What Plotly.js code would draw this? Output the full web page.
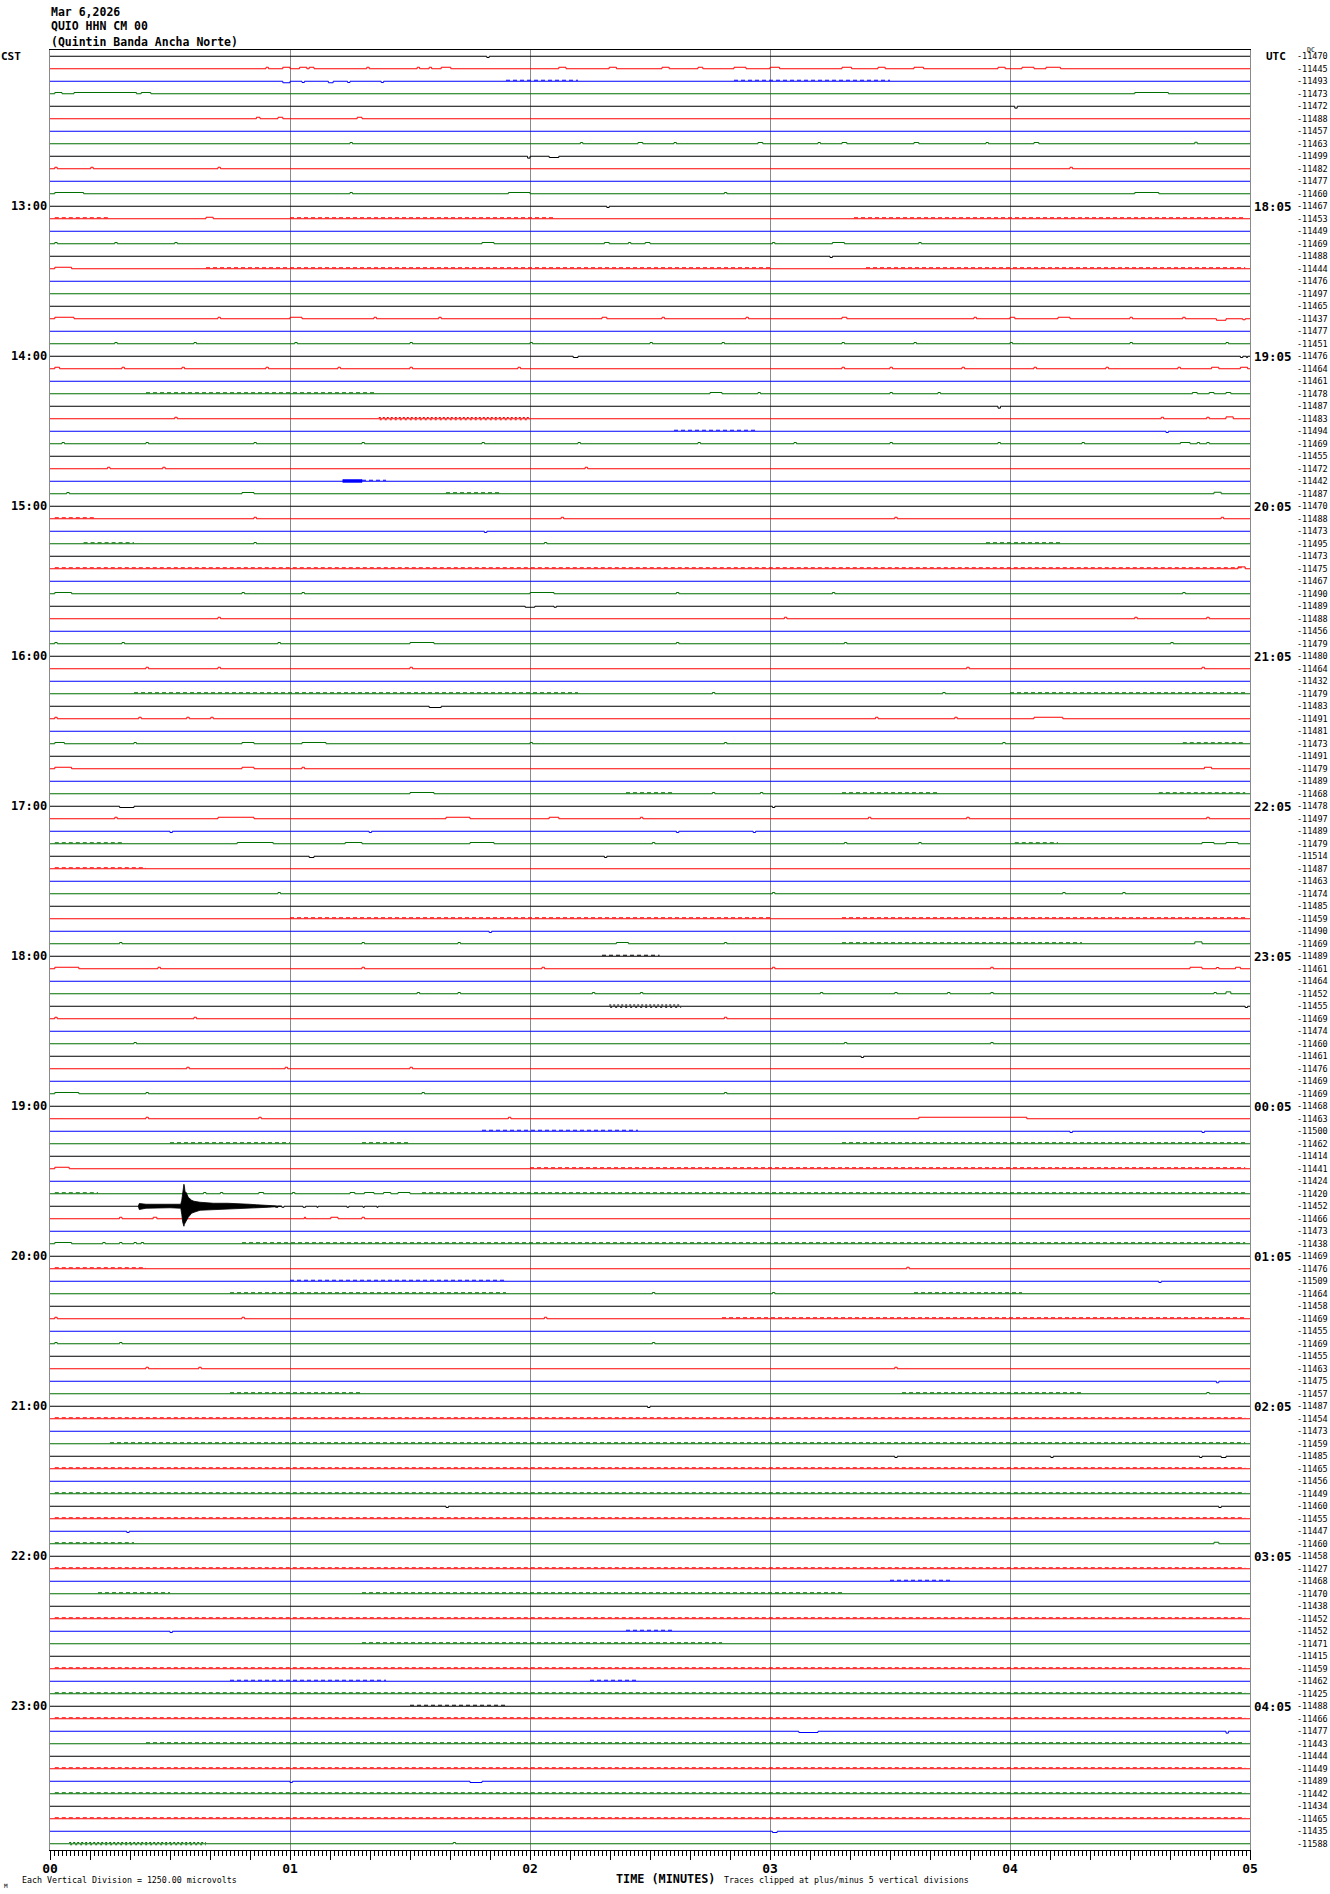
<!DOCTYPE html>
<html><head><meta charset="utf-8">
<script src="https://cdn.plot.ly/plotly-3.0.1.min.js"></script>
<style>html,body{margin:0;padding:0;background:#fff;} #chart{width:1330px;height:1894px;}</style>
</head><body><div id="chart"></div>
<script>
// ---------------- DATA ----------------
const titleLines = ['Mar 6,2026', 'QUIO HHN CM 00', '(Quintin Banda Ancha Norte)'];
const dcOffsets = [
 -11470,-11445,-11493,-11473,-11472,-11488,-11457,-11463,-11499,-11482,-11477,-11460,
 -11467,-11453,-11449,-11469,-11488,-11444,-11476,-11497,-11465,-11437,-11477,-11451,
 -11476,-11464,-11461,-11478,-11487,-11483,-11494,-11469,-11455,-11472,-11442,-11487,
 -11470,-11488,-11473,-11495,-11473,-11475,-11467,-11490,-11489,-11488,-11456,-11479,
 -11480,-11464,-11432,-11479,-11483,-11491,-11481,-11473,-11491,-11479,-11489,-11468,
 -11478,-11497,-11489,-11479,-11514,-11487,-11463,-11474,-11485,-11459,-11490,-11469,
 -11489,-11461,-11464,-11452,-11455,-11469,-11474,-11460,-11461,-11476,-11469,-11469,
 -11468,-11463,-11500,-11462,-11414,-11441,-11424,-11420,-11452,-11466,-11473,-11438,
 -11469,-11476,-11509,-11464,-11458,-11469,-11455,-11469,-11455,-11463,-11475,-11457,
 -11487,-11454,-11473,-11459,-11485,-11465,-11456,-11449,-11460,-11455,-11447,-11460,
 -11458,-11427,-11468,-11470,-11438,-11452,-11452,-11471,-11415,-11459,-11462,-11425,
 -11488,-11466,-11477,-11443,-11444,-11449,-11489,-11442,-11434,-11465,-11435,-11588
];
const hourRows = [12,24,36,48,60,72,84,96,108,120,132];
const cstHours = ['13:00','14:00','15:00','16:00','17:00','18:00','19:00','20:00','21:00','22:00','23:00'];
const utcHours = ['18:05','19:05','20:05','21:05','22:05','23:05','00:05','01:05','02:05','03:05','04:05'];
const minuteTicks = [0,1,2,3,4,5];
const minuteLabels = ['00','01','02','03','04','05'];

// isolated pulses: [row, startMin, endMin, deflection (trace-spacing units, + = up)]
const bumps = [
[0,1.82,1.83,-.1],
[1,.90,.91,.12],[1,.97,1.0,.12],[1,1.04,1.07,.12],[1,1.08,1.10,.12],[1,1.32,1.33,.12],[1,1.53,1.54,.12],[1,1.58,1.59,.12],[1,1.63,1.67,.12],[1,2.12,2.15,.12],[1,2.33,2.36,.12],[1,2.55,2.58,.12],[1,2.70,2.72,.12],[1,2.85,2.90,.12],[1,3.00,3.04,.12],[1,3.30,3.34,.12],[1,3.45,3.48,.12],[1,3.60,3.64,.12],[1,3.95,3.98,.12],[1,4.05,4.10,.12],[1,4.15,4.21,.12],
[2,.97,1.0,-.12],[2,1.05,1.06,-.1],[2,1.16,1.18,-.12],[2,1.24,1.25,-.1],[2,1.38,1.39,-.1],
[3,.02,.05,.1],[3,.10,.36,.1],[3,.38,.42,.1],[3,4.52,4.66,.1],
[4,4.02,4.03,-.15],
[5,.86,.875,.12],[5,.95,.97,.12],[5,1.28,1.30,.12],
[7,1.25,1.26,.1],[7,2.21,2.22,.1],[7,2.45,2.47,.1],[7,2.60,2.61,.1],[7,2.95,2.97,.1],[7,3.20,3.21,.1],[7,3.30,3.32,.1],[7,3.60,3.62,.1],[7,3.90,3.91,.1],[7,4.10,4.12,.1],[7,4.77,4.78,.12],
[8,1.99,2.0,-.15],[8,2.08,2.12,-.1],
[9,.02,.03,.12],[9,.17,.18,.12],[9,.70,.71,.12],[9,4.25,4.26,.12],
[11,.02,.14,.1],[11,1.25,1.26,.1],[11,1.91,2.0,.1],[11,2.81,2.82,.1],[11,4.52,4.62,.1],
[12,2.32,2.33,-.1],
[13,.65,.68,.12],
[15,.02,.03,.1],[15,.27,.28,.1],[15,.52,.53,.1],[15,1.80,1.85,.1],[15,2.31,2.33,.1],[15,2.41,2.42,.1],[15,2.48,2.50,.1],[15,3.01,3.02,.1],[15,3.26,3.31,.1],[15,3.62,3.63,.1],
[16,3.25,3.26,-.1],
[17,.02,.09,.12],
[21,.02,.10,.12],[21,.70,.71,.12],[21,1.0,1.05,.12],[21,1.35,1.36,.12],[21,1.62,1.63,.12],[21,2.30,2.32,.12],[21,2.55,2.56,.12],[21,2.90,2.91,.12],[21,3.30,3.32,.12],[21,3.85,3.86,.12],[21,4.0,4.02,.12],[21,4.20,4.25,.12],[21,4.50,4.51,.12],[21,4.72,4.73,.12],[21,4.86,4.90,-.12],[21,4.97,4.98,-.08],
[23,.27,.28,.1],[23,.60,.61,.1],[23,1.02,1.03,.1],[23,1.50,1.51,.1],[23,2.0,2.01,.1],[23,2.50,2.51,.1],[23,2.80,2.81,.1],[23,3.30,3.31,.1],[23,3.60,3.61,.1],[23,4.0,4.01,.1],[23,4.50,4.51,.1],[23,4.90,4.91,.1],
[24,2.18,2.20,-.1],[24,4.96,4.97,-.1],[24,4.985,4.99,-.1],
[25,.02,.04,.12],[25,.30,.31,.12],[25,.55,.56,.12],[25,.90,.91,.12],[25,1.20,1.21,.12],[25,1.50,1.51,.12],[25,1.95,1.96,.12],[25,3.30,3.31,.12],[25,3.50,3.51,.12],[25,3.80,3.81,.12],[25,4.10,4.11,.12],[25,4.40,4.41,.12],[25,4.70,4.71,.12],[25,4.84,4.87,.12],[25,4.96,4.99,.12],
[27,2.75,2.80,.1],[27,2.95,2.96,.1],[27,3.50,3.51,.1],[27,3.70,3.71,.1],[27,4.76,4.78,.1],[27,4.83,4.85,.1],[27,4.90,4.92,.1],
[28,3.95,3.96,-.15],
[29,.52,.53,.12],[29,4.63,4.64,.12],[29,4.82,4.83,.12],[29,4.90,4.93,.15],
[30,4.65,4.66,-.1],
[31,.05,.06,.1],[31,.40,.41,.1],[31,.85,.86,.1],[31,1.30,1.31,.1],[31,1.80,1.81,.1],[31,2.20,2.21,.1],[31,2.70,2.71,.1],[31,3.10,3.11,.1],[31,3.50,3.51,.1],[31,3.95,3.96,.1],[31,4.30,4.31,.1],[31,4.71,4.75,.1],[31,4.78,4.79,.1],[31,4.82,4.83,.1],
[33,.24,.25,.12],[33,.47,.48,.12],[33,2.23,2.24,.12],
[35,.07,.08,.1],[35,.80,.85,.1],[35,4.85,4.88,.12],
[37,.85,.86,.12],[37,2.13,2.14,.12],[37,3.52,3.53,.12],[37,4.88,4.89,.12],
[38,1.81,1.82,-.1],
[39,.85,.86,.1],[39,2.06,2.07,.1],
[41,4.95,4.98,.15],
[43,.02,.09,.1],[43,.80,.81,.1],[43,1.05,1.06,.1],[43,2.0,2.1,.1],[43,2.61,2.62,.1],[43,3.26,3.27,.1],[43,4.72,4.73,.1],
[44,1.98,2.02,-.08],[44,2.10,2.11,-.08],
[45,.70,.71,.12],[45,3.06,3.07,.12],[45,4.52,4.53,.12],[45,4.82,4.83,.12],
[47,.02,.03,.1],[47,.30,.31,.1],[47,.95,.96,.1],[47,1.50,1.60,.1],[47,2.61,2.62,.1],[47,3.31,3.32,.1],[47,4.67,4.68,.1],
[49,.40,.41,.12],[49,.70,.71,.12],[49,1.50,1.51,.12],[49,3.82,3.83,.12],[49,4.80,4.81,.12],
[51,2.76,2.77,.1],[51,3.72,3.73,.1],
[52,1.58,1.63,-.1],
[53,.02,.03,.12],[53,.37,.38,.12],[53,.57,.58,.12],[53,.67,.68,.12],[53,3.44,3.45,.12],[53,3.77,3.78,.12],[53,4.10,4.22,.12],
[55,.02,.06,.1],[55,.35,.36,.1],[55,.80,.85,.1],[55,1.05,1.15,.1],[55,2.0,2.01,.1],[55,2.81,2.82,.1],[55,3.97,3.98,.1],
[57,.02,.09,.12],[57,.80,.85,.12],[57,1.05,1.06,.12],[57,4.81,4.84,.12],
[59,1.50,1.60,.1],[59,2.76,2.77,.1],[59,2.96,2.97,.1],
[60,.29,.35,-.1],[60,3.01,3.02,-.1],
[61,.27,.28,.12],[61,.70,.85,.12],[61,1.65,1.75,.12],[61,2.08,2.12,.12],[61,2.46,2.47,.12],[61,3.41,3.42,.12],[61,3.82,3.83,.12],[61,4.82,4.83,.12],
[62,.50,.51,-.1],[62,1.33,1.34,-.1],[62,2.61,2.62,-.1],[62,2.93,2.94,-.1],
[63,.78,.93,.1],[63,1.23,1.30,.1],[63,1.75,1.85,.1],[63,2.51,2.52,.1],[63,3.31,3.32,.1],[63,3.62,3.63,.1],[63,4.80,4.85,.1],[63,4.90,4.95,.1],
[64,1.08,1.10,-.1],[64,2.31,2.32,-.1],
[67,.95,.96,.1],[67,3.01,3.02,.1],[67,4.22,4.23,.1],[67,4.47,4.48,.1],
[70,1.83,1.84,-.1],
[71,.29,.30,.1],[71,1.30,1.31,.1],[71,1.70,1.71,.1],[71,2.36,2.41,.1],[71,2.81,2.82,.1],[71,4.77,4.80,.15],
[73,.02,.12,.12],[73,.45,.46,.12],[73,1.30,1.31,.12],[73,2.05,2.06,.12],[73,3.01,3.02,.12],[73,3.92,3.93,.12],[73,4.75,4.80,.12],[73,4.86,4.87,.1],[73,4.94,4.96,.12],
[75,1.53,1.54,.1],[75,1.70,1.71,.1],[75,2.26,2.27,.1],[75,2.46,2.47,.1],[75,3.21,3.22,.1],[75,3.52,3.53,.1],[75,3.74,3.75,.1],[75,3.92,3.93,.1],[75,4.85,4.86,.1],[75,4.90,4.92,.15],
[76,4.98,4.99,-.1],
[77,.02,.03,.12],[77,.60,.61,.12],[77,2.81,2.82,.12],
[79,.35,.36,.1],[79,3.31,3.32,.1],[79,3.92,3.93,.1],
[80,3.38,3.39,-.1],
[81,.57,.58,.12],[81,.98,.99,.12],[81,1.50,1.51,.12],
[83,.02,.12,.1],[83,.40,.41,.1],[83,1.55,1.56,.1],[83,2.81,2.82,.1],
[85,.40,.41,.12],[85,.87,.88,.12],[85,1.91,1.92,.12],[85,3.62,4.07,.12],
[86,4.25,4.26,-.1],[86,4.80,4.81,-.1],
[89,.02,.08,.12],
[91,.64,.65,.1],[91,.71,.72,.1],[91,.87,.89,.1],[91,1.01,1.02,.1],[91,1.25,1.27,.1],[91,1.31,1.35,.1],[91,1.39,1.42,.1],[91,1.45,1.50,.1],
[92,.94,.95,-.08],[92,.966,.975,-.08],[92,1.054,1.065,-.08],[92,1.112,1.117,-.08],[92,1.237,1.245,-.08],[92,1.304,1.31,-.08],[92,1.362,1.366,-.08],
[93,.29,.30,.12],[93,.43,.445,.12],[93,1.06,1.065,.12],[93,1.17,1.20,.12],[93,1.30,1.31,.12],
[95,.02,.09,.1],[95,.22,.23,.1],[95,.29,.30,.1],[95,.35,.36,.1],[95,.38,.39,.1],
[97,3.57,3.58,.12],
[98,4.62,4.63,-.1],
[99,2.51,2.52,.1],[99,3.01,3.02,.1],
[101,.02,.03,.12],[101,.80,.81,.12],[101,2.06,2.07,.12],
[103,.02,.03,.1],[103,.29,.30,.1],[103,2.51,2.52,.1],
[105,.40,.41,.12],[105,.62,.63,.12],[105,3.52,3.53,.12],
[106,4.86,4.87,-.12],
[107,4.82,4.83,.1],
[108,2.49,2.50,-.1],
[112,3.52,3.53,-.1],[112,4.17,4.18,-.1],[112,4.79,4.80,-.1],[112,4.88,4.90,-.1],
[116,1.65,1.66,-.1],[116,4.87,4.88,-.1],
[118,.32,.33,-.1],
[119,4.85,4.87,.12],
[126,.50,.51,-.1],
[134,3.12,3.20,-.1],[134,4.90,4.91,-.15],
[138,1.0,1.01,-.1],[138,1.75,1.80,-.1],
[142,3.01,3.03,-.1],
[143,1.68,1.69,.1]
];

// dense small-noise segments: [row, startMin, endMin, amplitude (trace-spacing units)]
const bands = [
[2,1.90,2.20,.12],[2,2.85,3.50,.12],
[13,.02,.25,.1],[13,1.0,2.1,.12],[13,3.35,4.98,.12],
[17,.65,3.0,.12],[17,3.4,4.98,.1],
[27,.40,1.35,.1],
[29,1.37,2.0,.18],
[30,2.60,2.95,.1],
[34,1.22,1.30,.3],[34,1.30,1.40,.1],
[35,1.65,1.88,.12],
[37,.02,.19,.1],
[39,.14,.35,.1],[39,3.9,4.22,.12],
[41,.02,4.98,.1],
[51,.35,2.2,.1],[51,4.0,4.98,.1],
[55,4.72,4.98,.1],
[59,2.4,2.6,.12],[59,3.3,3.7,.12],[59,4.62,4.98,.1],
[63,.02,.3,.1],[63,4.02,4.2,.1],
[65,.02,.4,.12],
[69,1.0,3.0,.12],[69,3.3,4.98,.1],
[71,3.3,4.3,.08],
[72,2.3,2.54,.1],
[76,2.33,2.63,.18],
[86,1.8,2.45,.12],
[87,.5,1.0,.1],[87,1.3,1.5,.1],[87,3.3,4.98,.1],
[89,2.0,4.98,.12],
[91,.02,.2,.1],[91,1.55,4.98,.1],
[95,.8,4.98,.1],
[97,.02,.4,.12],
[98,1.0,1.9,.12],
[99,.75,1.9,.1],[99,3.6,4.05,.1],
[101,2.8,4.98,.08],
[107,.75,1.3,.1],[107,3.55,4.3,.1],
[109,.02,4.98,.1],
[111,.25,4.98,.1],
[113,.02,4.98,.08],
[115,.02,4.98,.1],
[117,.02,4.98,.12],
[119,.02,.35,.1],
[121,.02,4.98,.12],
[122,3.5,3.75,.1],
[123,.2,.5,.1],[123,1.3,3.3,.1],
[125,.02,4.98,.12],
[126,2.4,2.6,.1],
[127,1.3,2.8,.1],
[129,.02,4.98,.12],
[130,.75,1.4,.12],[130,2.25,2.45,.1],
[131,.02,4.98,.1],
[132,1.5,1.9,.1],
[133,.02,4.98,.1],
[135,.4,4.98,.1],
[137,.02,4.98,.1],
[139,.02,4.98,.1],
[141,.02,4.98,.12],
[143,.08,.65,.15]
];

// local earthquake on the 19:40 CST line: envelope (trace-spacing units)
const quakeRow = 92;
const quakeT    = [.368,.372,.40,.45,.50,.545,.549,.553,.558,.560,.563,.567,.576,.590,.600,.625,.650,.681,.74,.792,.83,.861,.91,.965];
const quakeUp   = [0,.22,.16,.16,.12,.16,.48,1.12,1.76,1.6,1.12,1.12,.72,.48,.4,.32,.28,.24,.24,.16,.16,.12,.08,0];
const quakeDown = [0,.26,.16,.16,.12,.16,.64,1.28,1.6,1.44,1.28,1.2,.88,.56,.48,.32,.28,.24,.24,.16,.16,.12,.08,0];

// ---------------- DRAWING ----------------
const traceColors = ['#000000','#ff0000','#0000ff','#007000'];
const nRows = dcOffsets.length;
const tEnd = minuteTicks[minuteTicks.length-1];
const data = [];

for (let r = 0; r < nRows; r++) {
  const bs = bumps.filter(b => b[0] === r).sort((a, b) => a[1] - b[1]);
  const xs = [0], ys = [r];
  for (const b of bs) {
    const t0 = b[1], t1 = Math.max(b[2], b[1] + 0.005), d = b[3];
    xs.push(t0, t0, t1, t1); ys.push(r, r - d, r - d, r);
  }
  xs.push(tEnd); ys.push(r);
  data.push({type:'scatter', mode:'lines', x:xs, y:ys, xaxis:'x', yaxis:'y',
    line:{color:traceColors[r % 4], width:1}, hoverinfo:'skip', showlegend:false});
}

// noise bands
for (const b of bands) {
  const [r, t0, t1, a] = b;
  const col = traceColors[r % 4];
  if (a >= 0.25) {
    const up = r - a * 0.45, dn = r + a * 0.3;
    data.push({type:'scatter', mode:'lines', x:[t0, t1, t1, t0, t0], y:[up, up, dn, dn, up],
      fill:'toself', fillcolor:col, line:{color:col, width:0.6}, hoverinfo:'skip', showlegend:false});
  } else if (a >= 0.15) {
    data.push({type:'scatter', mode:'lines', x:[t0, t1], y:[r - 0.1, r - 0.1],
      line:{color:col, width:1, dash:'2px,2px'}, hoverinfo:'skip', showlegend:false});
    data.push({type:'scatter', mode:'lines', x:[t0 + 0.004, t1], y:[r + 0.08, r + 0.08],
      line:{color:col, width:1, dash:'2px,3px'}, hoverinfo:'skip', showlegend:false});
  } else {
    data.push({type:'scatter', mode:'lines', x:[t0, t1], y:[r - 0.08, r - 0.08],
      line:{color:col, width:1, dash:'4px,3px'}, hoverinfo:'skip', showlegend:false});
  }
}

// earthquake envelope polygon
{
  const qx = quakeT.concat(quakeT.slice().reverse());
  const qy = quakeT.map((t, i) => quakeRow - quakeUp[i]).concat(quakeT.map((t, i) => quakeRow + quakeDown[i]).reverse());
  data.push({type:'scatter', mode:'lines', x:qx, y:qy, fill:'toself', fillcolor:'#000',
    line:{color:'#000', width:0.8}, hoverinfo:'skip', showlegend:false});
}

// helper traces so the tick-only axes are laid out
data.push({type:'scatter', mode:'lines', x:[], y:[], xaxis:'x2', yaxis:'y', showlegend:false, hoverinfo:'skip'});
data.push({type:'scatter', mode:'lines', x:[], y:[], xaxis:'x3', yaxis:'y', showlegend:false, hoverinfo:'skip'});

const mono = 'DejaVu Sans Mono, Liberation Mono, monospace';
const annotations = [];
dcOffsets.forEach((v, r) => annotations.push({
  text: String(v), x:1, xref:'paper', xanchor:'left', xshift:45, y:r, yref:'y', yanchor:'middle',
  showarrow:false, font:{family:mono, size:8.5, color:'#000'}
}));
hourRows.forEach((r, i) => {
  annotations.push({text:cstHours[i], x:0, xref:'paper', xanchor:'right', xshift:-1, y:r, yref:'y', yanchor:'middle',
    showarrow:false, font:{family:mono, size:12, color:'#000', weight:'bold'}});
  annotations.push({text:utcHours[i], x:1, xref:'paper', xanchor:'left', xshift:2, y:r, yref:'y', yanchor:'middle',
    showarrow:false, font:{family:mono, size:12.5, color:'#000', weight:'bold'}});
});
annotations.push({text:'CST', x:0, xref:'paper', xanchor:'left', xshift:-51, y:0, yref:'y', yanchor:'middle',
  showarrow:false, font:{family:mono, size:11, color:'#000', weight:'bold'}});
annotations.push({text:'UTC', x:1, xref:'paper', xanchor:'left', xshift:14, y:0, yref:'y', yanchor:'middle',
  showarrow:false, font:{family:mono, size:11, color:'#000', weight:'bold'}});
annotations.push({text:'DC', x:1, xref:'paper', xanchor:'left', xshift:55, y:0, yref:'y', yanchor:'middle', yshift:6,
  showarrow:false, font:{family:mono, size:6.5, color:'#000'}});
titleLines.forEach((t, i) => annotations.push({text:t, x:0, xref:'paper', xanchor:'left', xshift:-1, y:1, yref:'paper',
  yanchor:'middle', yshift:[38, 24, 8][i], showarrow:false, font:{family:mono, size:11.5, color:'#000', weight:'bold'}}));
annotations.push({text:'Each Vertical Division = 1250.00 microvolts', x:0, xref:'paper', xanchor:'left', xshift:-30,
  y:0, yref:'paper', yanchor:'middle', yshift:-30, showarrow:false, font:{family:mono, size:8.3, color:'#000'}});
annotations.push({text:'TIME (MINUTES)', x:0.47, xref:'paper', xanchor:'left', y:0, yref:'paper', yanchor:'middle', yshift:-29,
  showarrow:false, font:{family:mono, size:11.8, color:'#000', weight:'bold'}});
annotations.push({text:'Traces clipped at plus/minus 5 vertical divisions', x:0.56, xref:'paper', xanchor:'left',
  y:0, yref:'paper', yanchor:'middle', yshift:-29.5, showarrow:false, font:{family:mono, size:8.3, color:'#000'}});
annotations.push({text:'M', x:0, xref:'paper', xanchor:'left', xshift:-48, y:0, yref:'paper', yanchor:'middle', yshift:-35,
  showarrow:false, font:{family:mono, size:6, color:'#000'}});

const layout = {
  width:1330, height:1894,
  margin:{l:50, r:80, t:50, b:44, pad:0},
  paper_bgcolor:'#fff', plot_bgcolor:'#fff',
  showlegend:false,
  xaxis:{range:[0, tEnd], tickmode:'array', tickvals:minuteTicks, ticktext:minuteLabels,
    ticks:'outside', ticklen:6, tickwidth:1, tickcolor:'#000',
    showgrid:true, gridcolor:'#8a8a8a', gridwidth:1, zeroline:false,
    showline:true, linecolor:'#000', linewidth:1, mirror:true,
    tickfont:{family:mono, size:13, color:'#000', weight:'bold'}, fixedrange:true},
  xaxis2:{range:[0, tEnd], overlaying:'x', anchor:'y', side:'bottom', tickmode:'linear', tick0:0, dtick:1/6,
    ticks:'outside', ticklen:9, tickwidth:1, tickcolor:'#000', showticklabels:false, showgrid:false, zeroline:false, showline:false},
  xaxis3:{range:[0, tEnd], overlaying:'x', anchor:'y', side:'bottom', tickmode:'linear', tick0:0, dtick:1/60,
    ticks:'outside', ticklen:5, tickwidth:1, tickcolor:'#000', showticklabels:false, showgrid:false, zeroline:false, showline:false},
  yaxis:{range:[nRows - 0.5, -0.5], showticklabels:false, ticks:'', showgrid:false, zeroline:false,
    showline:true, linecolor:'#8a8a8a', linewidth:1, mirror:true, fixedrange:true},
  annotations: annotations
};

Plotly.newPlot('chart', data, layout, {staticPlot:true, displayModeBar:false});
</script>
</body></html>
